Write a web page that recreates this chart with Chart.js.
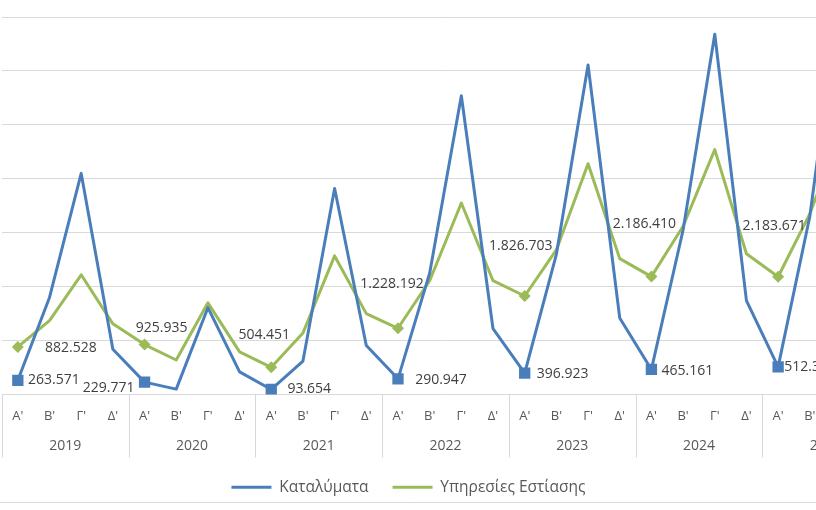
<!DOCTYPE html>
<html>
<head>
<meta charset="utf-8">
<script src="https://cdn.jsdelivr.net/npm/chart.js@4.4.1/dist/chart.umd.min.js"></script>
<style>
  html, body { margin:0; padding:0; background:#fff; overflow:hidden; width:816px; height:510px; }
  #wrap { position:absolute; left:-80px; top:0; width:977px; height:505px; }
</style>
</head>
<body>
<div id="wrap"><canvas id="chart"></canvas></div>
<script>
// data
const years = ['2019', '2020', '2021', '2022', '2023', '2024', '2025'];
const quarters = ["Α'", "Β'", "Γ'", "Δ'"];
const katalymata = [
  263571, 1800000, 4100000, 840000,
  229771, 100000, 1610000, 420000,
  93654, 620000, 3820000, 910000,
  290947, 2250000, 5540000, 1220000,
  396923, 2600000, 6110000, 1420000,
  465161, 3050000, 6680000, 1740000,
  512300, 3300000, 7700000, 1900000
];
const estiasi = [
  882528, 1370000, 2220000, 1310000,
  925935, 640000, 1700000, 790000,
  504451, 1140000, 2570000, 1500000,
  1228192, 2110000, 3550000, 2110000,
  1826703, 2680000, 4280000, 2520000,
  2186410, 3120000, 4540000, 2610000,
  2183671, 3350000, 4900000, 2900000
];
const yMax = 7000000, yStep = 1000000;

const labels = [];
years.forEach(y => quarters.forEach(q => labels.push(q)));

const BLUE = '#4A7EBB', GREEN = '#9BBB59', TXT = '#595959', GRID = '#d9d9d9';
const fmt = v => String(Math.round(v)).replace(/\B(?=(\d{3})+(?!\d))/g, '.');

// label nudges for the Q1 data labels (px)
const blueNudge = [[36,0],[-36,6],[38,0],[43,1],[38,1],[36,2],[32,0]];
const greenNudge = [[53,1],[17,-17],[-7,-32],[-6,-44],[-4,-50],[-7,-53],[-4,-51]];

const extras = {
  id: 'extras',
  afterDatasetsDraw(chart) {
    const ctx = chart.ctx;
    chart.data.datasets.forEach((ds, di) => {
      const meta = chart.getDatasetMeta(di);
      const nudge = di === 0 ? blueNudge : greenNudge;
      ctx.save();
      ctx.font = '14px "Open Sans"';
      ctx.fillStyle = '#404040';
      ctx.textAlign = 'center';
      ctx.textBaseline = 'middle';
      ds.data.forEach((v, i) => {
        if (i % 4) return;
        const p = meta.data[i], n = nudge[i / 4];
        ctx.fillText(fmt(v), p.x + n[0], p.y + n[1]);
      });
      ctx.restore();
    });
  },
  afterDraw(chart) {
    const {ctx, chartArea, scales: {x}} = chart;
    const catW = (x.right - x.left) / labels.length;
    ctx.save();
    ctx.strokeStyle = GRID;
    ctx.lineWidth = 1;
    for (let g = 0; g <= years.length; g++) {
      const xx = Math.round(x.left + g * 4 * catW) + 0.5;
      ctx.beginPath();
      ctx.moveTo(xx, chartArea.bottom);
      ctx.lineTo(xx, chartArea.bottom + 63);
      ctx.stroke();
    }
    ctx.font = '14px "Open Sans"';
    ctx.fillStyle = TXT;
    ctx.textAlign = 'center';
    ctx.textBaseline = 'middle';
    years.forEach((y, g) => {
      ctx.fillText(y, x.left + (g * 4 + 2) * catW, chartArea.bottom + 52);
    });
    ctx.beginPath();
    ctx.moveTo(0, 502.5);
    ctx.lineTo(chart.width, 502.5);
    ctx.stroke();
    ctx.restore();
  }
};

new Chart(document.getElementById('chart'), {
  type: 'line',
  data: {
    labels,
    datasets: [
      {
        label: 'Καταλύματα',
        data: katalymata,
        borderColor: BLUE,
        backgroundColor: BLUE,
        borderWidth: 3,
        borderJoinStyle: 'round',
        pointStyle: 'rect',
        pointRadius: c => c.dataIndex % 4 === 0 ? 8 : 0,
        pointHoverRadius: c => c.dataIndex % 4 === 0 ? 8 : 0,
        pointBorderWidth: 0
      },
      {
        label: 'Υπηρεσίες Εστίασης',
        data: estiasi,
        borderColor: GREEN,
        backgroundColor: GREEN,
        borderWidth: 3,
        borderJoinStyle: 'round',
        pointStyle: 'rectRot',
        pointRadius: c => c.dataIndex % 4 === 0 ? 6 : 0,
        pointHoverRadius: c => c.dataIndex % 4 === 0 ? 6 : 0,
        pointBorderWidth: 0
      }
    ]
  },
  options: {
    responsive: true,
    maintainAspectRatio: false,
    animation: false,
    layout: { padding: { top: 17, left: 0, right: 0, bottom: 0 } },
    plugins: {
      tooltip: { enabled: false },
      legend: {
        position: 'bottom',
        labels: {
          font: { family: 'Open Sans', size: 15.5 },
          color: TXT,
          boxWidth: 40,
          boxHeight: 3,
          padding: 24,
          generateLabels: ch => Chart.defaults.plugins.legend.labels.generateLabels(ch)
            .map(l => ({ ...l, lineWidth: 0 }))
        }
      }
    },
    scales: {
      x: {
        offset: true,
        grid: { display: false, drawTicks: false },
        border: { display: false },
        ticks: {
          autoSkip: false,
          maxRotation: 0,
          padding: 14,
          color: TXT,
          font: { family: 'Open Sans', size: 13 }
        },
        afterFit: s => { s.height = 61; }
      },
      y: {
        min: 0,
        max: yMax,
        ticks: { display: false, stepSize: yStep },
        grid: { color: GRID, drawTicks: false },
        border: { display: false },
        afterFit: s => { s.width = 82; }
      }
    }
  },
  plugins: [extras]
});
</script>
</body>
</html>
